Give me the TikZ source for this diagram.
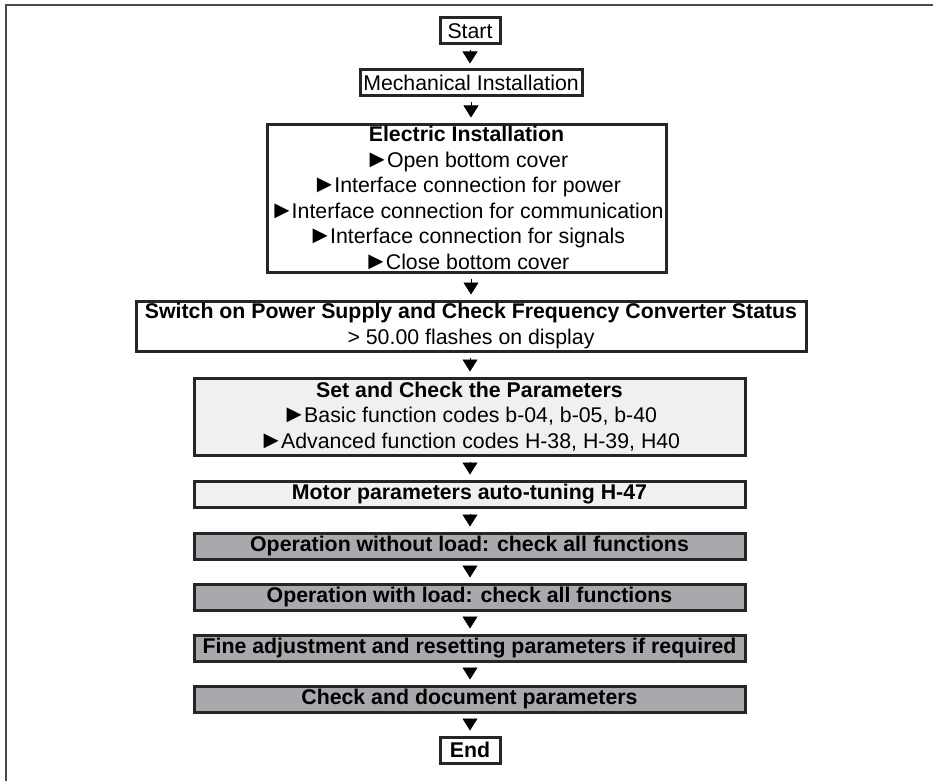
\documentclass[tikz,border=0pt]{standalone}
\usepackage{fontspec}
\setmainfont{Liberation Sans}
\usetikzlibrary{arrows.meta}
\definecolor{framegray}{HTML}{4A4A4A}
\definecolor{boxline}{HTML}{262626}
\definecolor{paramfill}{HTML}{F0F0F0}
\definecolor{testfill}{HTML}{A7A9AC}
\newcommand{\pointer}{{\fontsize{25}{25.6}\selectfont ►}\kern-2.5pt}
\tikzset{
  flowbox/.style={draw=boxline, line width=3pt, fill=white, inner sep=0pt, align=center,
    font=\fontsize{21.3}{25.6}\selectfont},
  paramstep/.style={flowbox, fill=paramfill},
  teststep/.style={flowbox, fill=testfill, font=\fontsize{21.3}{25.6}\selectfont\bfseries},
  flowarrow/.style={line width=0.6pt, -{Triangle[length=12pt,width=15pt]},
    shorten >=5pt, shorten <=5pt}
}
\begin{document}
\begin{tikzpicture}[x=1pt,y=-1pt]
\useasboundingbox (0,0) rectangle (933,781);
% frame
\draw[framegray, line width=2pt] (6,781) -- (6,5) -- (933,5);

\node[flowbox, minimum width=60, minimum height=26] (start) at (470,31) {Start};
\node[flowbox, minimum width=222, minimum height=26] (mech) at (471,83) {Mechanical Installation};
\node[flowbox, minimum width=399, minimum height=148] (elec) at (466.5,198)
  {\textbf{Electric Installation}\\\pointer Open bottom cover\\\pointer Interface connection for power\\\pointer Interface connection for communication\\\pointer Interface connection for signals\\\pointer Close bottom cover};
\node[flowbox, minimum width=670, minimum height=50] (switch) at (471,326)
  {\textbf{Switch on Power Supply and Check Frequency Converter Status}\\> 50.00 flashes on display};
\node[paramstep, minimum width=551, minimum height=77] (param) at (469.5,416.5)
  {\textbf{Set and Check the Parameters}\\\pointer Basic function codes b-04, b-05, b-40\\\pointer Advanced function codes H-38, H-39, H40};
\node[paramstep, minimum width=551, minimum height=26, font=\fontsize{21.3}{25.6}\selectfont\bfseries] (tuning) at (469.5,494) {Motor parameters auto-tuning H-47};
\node[teststep, minimum width=551, minimum height=26] (noload) at (469.5,546) {Operation without load: check all functions};
\node[teststep, minimum width=551, minimum height=26] (load) at (469.5,597) {Operation with load: check all functions};
\node[teststep, minimum width=551, minimum height=26] (fine) at (469.5,648) {Fine adjustment and resetting parameters if required};
\node[teststep, minimum width=551, minimum height=26] (docu) at (469.5,699) {Check and document parameters};
\node[flowbox, minimum width=60, minimum height=26, font=\fontsize{21.3}{25.6}\selectfont\bfseries] (end) at (470,750) {End};

\draw[flowarrow] (start.south) -- (start.south |- mech.north);
\draw[flowarrow] (mech.south) -- (mech.south |- elec.north);
\draw[flowarrow] (mech.south |- elec.south) -- (mech.south |- switch.north);
\draw[flowarrow] (start.south |- switch.south) -- (start.south |- param.north);
\draw[flowarrow] (start.south |- param.south) -- (start.south |- tuning.north);
\draw[flowarrow] (start.south |- tuning.south) -- (start.south |- noload.north);
\draw[flowarrow] (start.south |- noload.south) -- (start.south |- load.north);
\draw[flowarrow] (start.south |- load.south) -- (start.south |- fine.north);
\draw[flowarrow] (start.south |- fine.south) -- (start.south |- docu.north);
\draw[flowarrow] (start.south |- docu.south) -- (end.north);
\end{tikzpicture}
\end{document}
